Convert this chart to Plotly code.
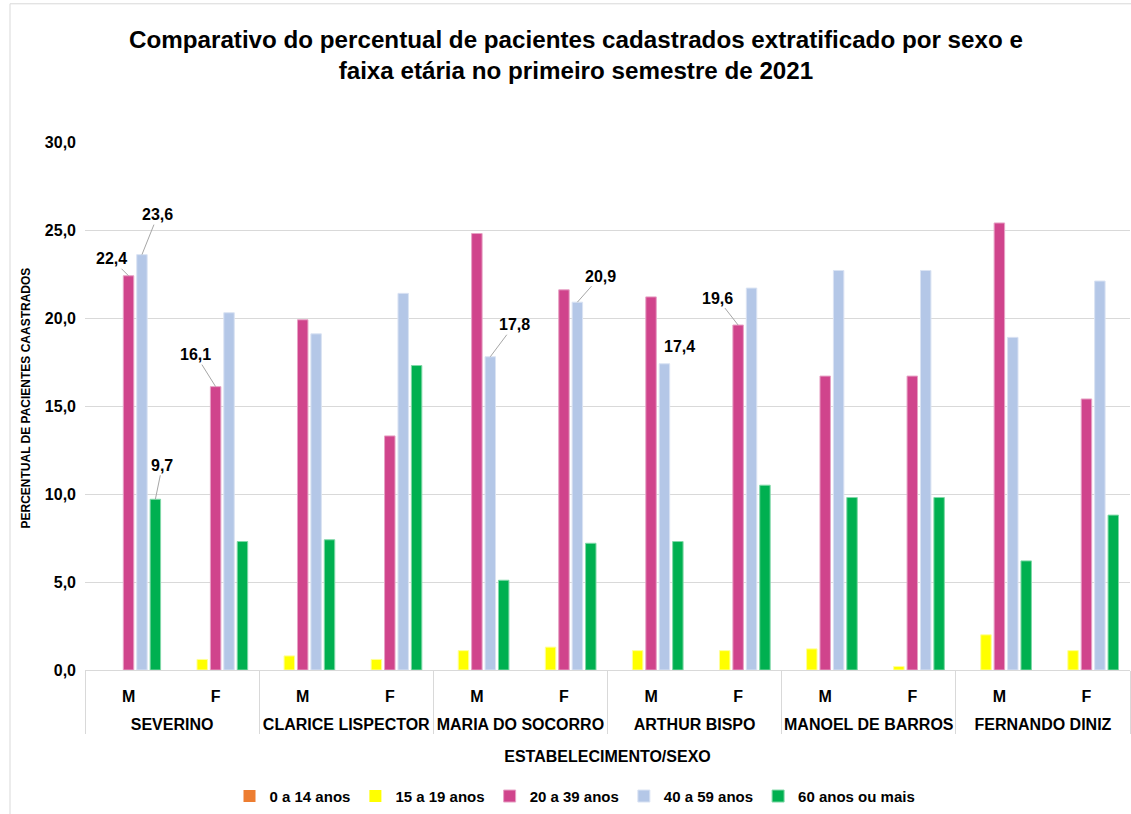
import plotly.graph_objects as go

establishments = ["SEVERINO", "CLARICE LISPECTOR", "MARIA DO SOCORRO",
                  "ARTHUR BISPO", "MANOEL DE BARROS", "FERNANDO DINIZ"]
sexes = ["M", "F"]

series_names = ["0 a 14 anos", "15 a 19 anos", "20 a 39 anos", "40 a 59 anos", "60 anos ou mais"]
age_0_14 = [0, 0, 0, 0, 0, 0, 0, 0, 0, 0, 0, 0]
age_15_19 = [0.0, 0.6, 0.8, 0.6, 1.1, 1.3, 1.1, 1.1, 1.2, 0.2, 2.0, 1.1]
age_20_39 = [22.4, 16.1, 19.9, 13.3, 24.8, 21.6, 21.2, 19.6, 16.7, 16.7, 25.4, 15.4]
age_40_59 = [23.6, 20.3, 19.1, 21.4, 17.8, 20.9, 17.4, 21.7, 22.7, 22.7, 18.9, 22.1]
age_60_plus = [9.7, 7.3, 7.4, 17.3, 5.1, 7.2, 7.3, 10.5, 9.8, 9.8, 6.2, 8.8]

colors = ["#ED7D31", "#FFFF00", "#D0448C", "#B4C7E7", "#00B050"]
line_colors = ["#F5B58A", "#FFFF99", "#E7A2C5", "#DAE3F3", "#80D8A8"]

# labelled points: (category index, series index, value, text dx, text dy, arrow)
labels = [
    (0, 2, 22.4, -17, -17, True),
    (0, 3, 23.6, 16, -40, True),
    (0, 4, 9.7, 7, -34, True),
    (1, 2, 16.1, -20, -32, True),
    (4, 3, 17.8, 24, -32, True),
    (5, 3, 20.9, 23, -26, True),
    (6, 3, 17.4, 15, -17, False),
    (7, 2, 19.6, -21, -27, True),
]

# outer labels get an empty first line to sit lower, as in the reference
outer = ["<br>" + e for e in establishments for _ in sexes]
inner = [s for _ in establishments for s in sexes]

FONT = "Liberation Sans, Arial, sans-serif"

all_series = [age_0_14, age_15_19, age_20_39, age_40_59, age_60_plus]

fig = go.Figure()
for name, vals, c, lc in zip(series_names, all_series, colors, line_colors):
    fig.add_trace(go.Bar(
        x=[outer, inner], y=vals, name=name,
        marker=dict(color=c, line=dict(color=lc, width=[1 if v > 0 else 0 for v in vals])),
        hoverinfo="y+name",
    ))

bargap = 0.23
slot = (1 - bargap) / len(all_series)
for idx, si, val, dx, dy, arrow in labels:
    xpos = idx + (si - 2) * slot
    txt = f"{val:.1f}".replace(".", ",")
    if arrow:
        fig.add_annotation(x=xpos, y=val, xref="x", yref="y", text=txt,
                           showarrow=True, arrowhead=0, arrowwidth=1,
                           arrowcolor="#A6A6A6", ax=dx, ay=dy,
                           font=dict(family=FONT, size=16, color="#000", weight="bold"))
    else:
        fig.add_annotation(x=xpos, y=val, xref="x", yref="y", text=txt,
                           showarrow=False, xshift=dx, yshift=-dy,
                           font=dict(family=FONT, size=16, color="#000", weight="bold"))

# chart title
fig.add_annotation(text="Comparativo do percentual de pacientes cadastrados extratificado por sexo e<br>faixa etária no primeiro semestre de 2021",
                   xref="paper", yref="paper", x=(576 - 85) / 1045, y=(673 - 55) / 531,
                   xanchor="center", yanchor="middle", showarrow=False,
                   font=dict(family=FONT, size=24.2, color="#000", weight="bold"))

# y-axis title
fig.add_annotation(text="PERCENTUAL DE PACIENTES CAASTRADOS", textangle=-90,
                   xref="paper", yref="paper", x=(26 - 85) / 1045, y=(673 - 400) / 531,
                   showarrow=False, xanchor="center", yanchor="middle",
                   font=dict(family=FONT, size=12, color="#000", weight="bold"))

# outer frame (left/top edges visible)
fig.add_shape(type="rect", xref="paper", yref="paper",
              x0=(10 - 85) / 1045, x1=(1145 - 85) / 1045,
              y0=(673 - 825) / 531, y1=(673 - 3) / 531,
              line=dict(color="#D9D9D9", width=1), layer="below")

fig.update_layout(
    width=1131, height=814,
    margin=dict(l=85, r=1, t=142, b=140),
    paper_bgcolor="white", plot_bgcolor="white",
    separators=",.",
    barmode="group", bargap=bargap, bargroupgap=0.22,
    xaxis=dict(type="multicategory", showline=True, linecolor="#D9D9D9", linewidth=1,
               showdividers=True, dividercolor="#D9D9D9", dividerwidth=1,
               tickangle=0, automargin=False, ticklabelstandoff=12,
               tickfont=dict(family=FONT, size=16, color="#000", weight="bold"),
               title=dict(text="ESTABELECIMENTO/SEXO", standoff=18,
                          font=dict(family=FONT, size=16, color="#000", weight="bold"))),
    yaxis=dict(range=[0, 30], dtick=5, tickformat=".1f", showgrid=True,
               gridcolor="#D9D9D9", gridwidth=1, zeroline=False, automargin=False,
               ticks="", ticklabelstandoff=8,
               tickfont=dict(family=FONT, size=16, color="#000", weight="bold")),
    legend=dict(orientation="h", x=(575 - 85) / 1045, xanchor="center",
                y=(673 - 800) / 531, yanchor="middle",
                font=dict(family=FONT, size=15, color="#000", weight="bold"),
                itemwidth=30, traceorder="normal"),
    showlegend=True,
)

fig.write_html("out.html")
